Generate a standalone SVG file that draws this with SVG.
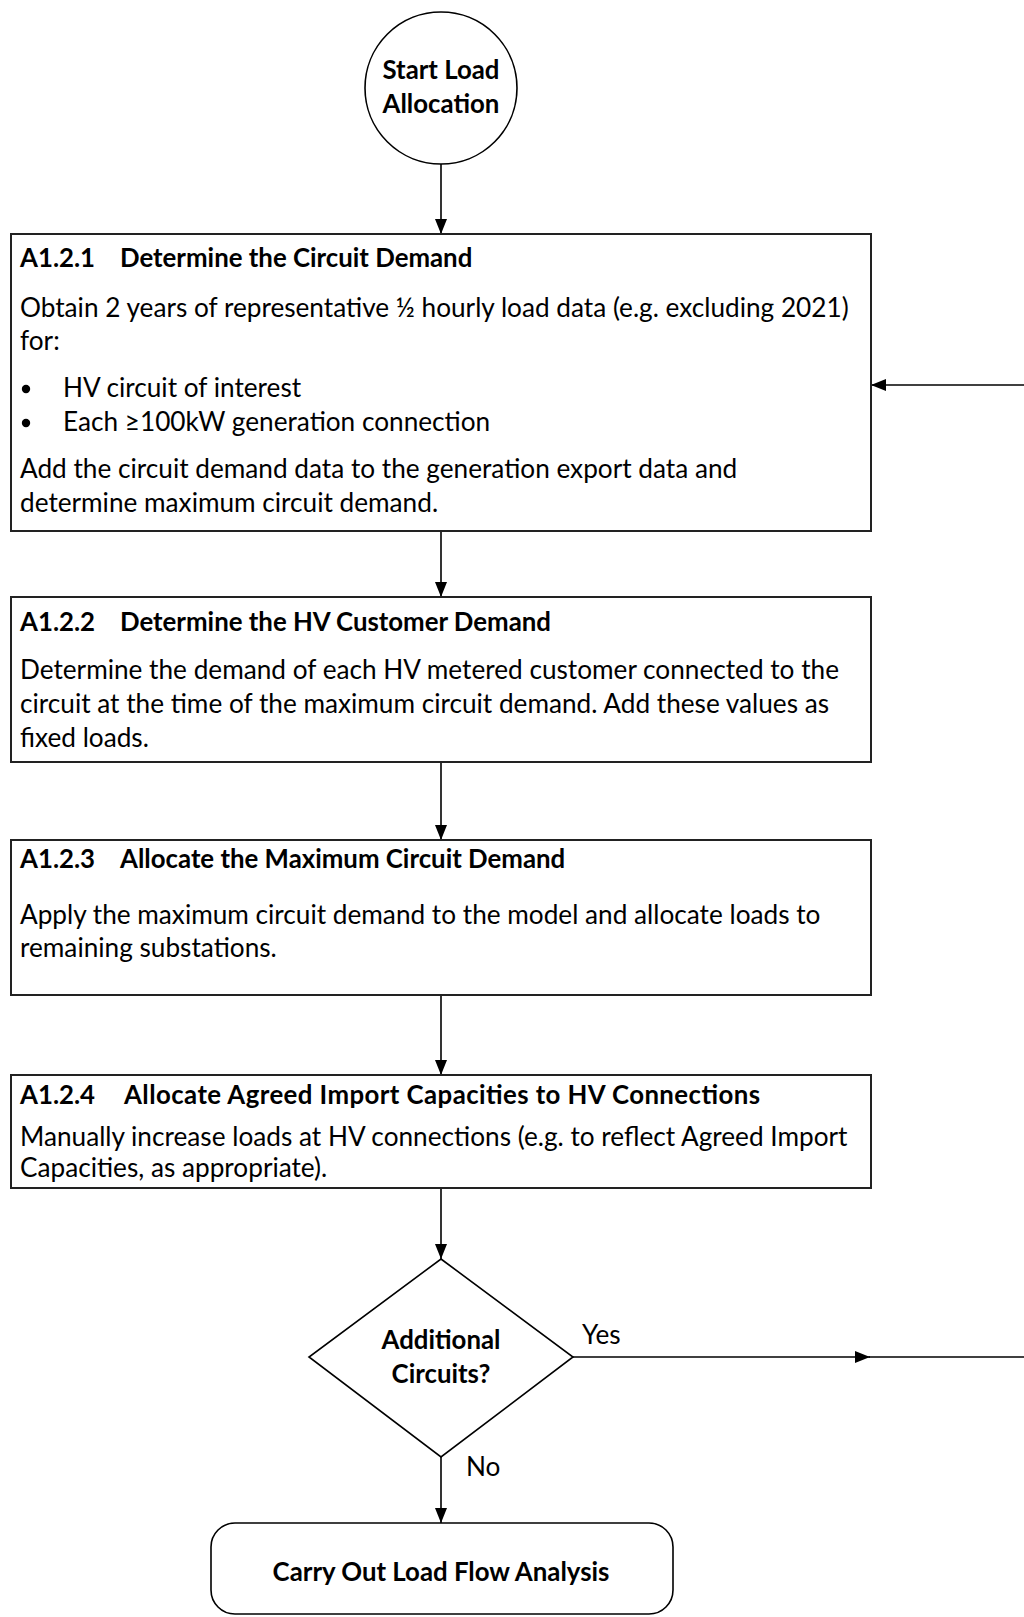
<svg xmlns="http://www.w3.org/2000/svg" width="1024" height="1617" viewBox="0 0 1024 1617">
  <defs>
    <marker id="arr" viewBox="0 0 15 12" refX="15" refY="6" markerWidth="15" markerHeight="12" markerUnits="userSpaceOnUse" orient="auto">
      <path d="M0,0 L15,6 L0,12 z" fill="#000"/>
    </marker>
    <style>
      .box { fill: #fff; stroke: #222; stroke-width: 2; }
      .shape { fill: #fff; stroke: #000; stroke-width: 1.6; }
      .conn { fill: none; stroke: #000; stroke-width: 1.6; }
      text { font-family: Lato, "Liberation Sans", sans-serif; fill: #000; }
      .b { font-size: 25.8px; font-weight: bold; }
      .r { font-size: 26.2px; }
      .c { text-anchor: middle; }
    </style>
  </defs>
  <rect width="1024" height="1617" fill="#fff"/>

  <g id="connectors">
    <line class="conn" x1="441" y1="164" x2="441" y2="234" marker-end="url(#arr)"/>
    <line class="conn" x1="441" y1="531" x2="441" y2="597" marker-end="url(#arr)"/>
    <line class="conn" x1="441" y1="762" x2="441" y2="840" marker-end="url(#arr)"/>
    <line class="conn" x1="441" y1="995" x2="441" y2="1075" marker-end="url(#arr)"/>
    <line class="conn" x1="441" y1="1188" x2="441" y2="1259" marker-end="url(#arr)"/>
    <line class="conn" x1="441" y1="1457" x2="441" y2="1523" marker-end="url(#arr)"/>
    <line class="conn" x1="573" y1="1357" x2="870" y2="1357" marker-end="url(#arr)"/>
    <line class="conn" x1="869" y1="1357" x2="1024" y2="1357"/>
    <line class="conn" x1="1024" y1="385" x2="871" y2="385" marker-end="url(#arr)"/>
    <text class="r" x="582" y="1344">Yes</text>
    <text class="r" x="466" y="1476">No</text>
  </g>

  <g id="start">
    <circle class="shape" cx="441" cy="88" r="76"/>
    <text class="b c" x="441" y="79">Start Load</text>
    <text class="b c" x="441" y="113">Allocation</text>
  </g>

  <g id="a121">
    <rect class="box" x="11" y="234" width="860" height="297"/>
    <text class="b" x="20" y="267">A1.2.1</text>
    <text class="b" x="120" y="267">Determine the Circuit Demand</text>
    <text class="r" x="20" y="317">Obtain 2 years of representative ½ hourly load data (e.g. excluding 2021)</text>
    <text class="r" x="20" y="350">for:</text>
    <circle cx="26" cy="389" r="4.2" fill="#000"/>
    <text class="r" x="63" y="397">HV circuit of interest</text>
    <circle cx="26" cy="423" r="4.2" fill="#000"/>
    <text class="r" x="63" y="431">Each ≥100kW generation connection</text>
    <text class="r" x="20" y="478">Add the circuit demand data to the generation export data and</text>
    <text class="r" x="20" y="512">determine maximum circuit demand.</text>
  </g>

  <g id="a122">
    <rect class="box" x="11" y="597" width="860" height="165"/>
    <text class="b" x="20" y="631">A1.2.2</text>
    <text class="b" x="120" y="631">Determine the HV Customer Demand</text>
    <text class="r" x="20" y="679">Determine the demand of each HV metered customer connected to the</text>
    <text class="r" x="20" y="713">circuit at the time of the maximum circuit demand. Add these values as</text>
    <text class="r" x="20" y="747">fixed loads.</text>
  </g>

  <g id="a123">
    <rect class="box" x="11" y="840" width="860" height="155"/>
    <text class="b" x="20" y="868">A1.2.3</text>
    <text class="b" x="120" y="868">Allocate the Maximum Circuit Demand</text>
    <text class="r" x="20" y="924">Apply the maximum circuit demand to the model and allocate loads to</text>
    <text class="r" x="20" y="957">remaining substations.</text>
  </g>

  <g id="a124">
    <rect class="box" x="11" y="1075" width="860" height="113"/>
    <text class="b" x="20" y="1104">A1.2.4</text>
    <text class="b" x="124" y="1104" textLength="636" lengthAdjust="spacing">Allocate Agreed Import Capacities to HV Connections</text>
    <text class="r" x="20" y="1146">Manually increase loads at HV connections (e.g. to reflect Agreed Import</text>
    <text class="r" x="20" y="1177">Capacities, as appropriate).</text>
  </g>

  <g id="decision">
    <polygon class="shape" points="441,1259 573,1357 441,1457 309,1357"/>
    <text class="b c" x="441" y="1349">Additional</text>
    <text class="b c" x="441" y="1383">Circuits?</text>
  </g>

  <g id="end">
    <rect class="shape" x="211" y="1523" width="462" height="91" rx="24" ry="24"/>
    <text class="b c" x="441" y="1581">Carry Out Load Flow Analysis</text>
  </g>
</svg>
